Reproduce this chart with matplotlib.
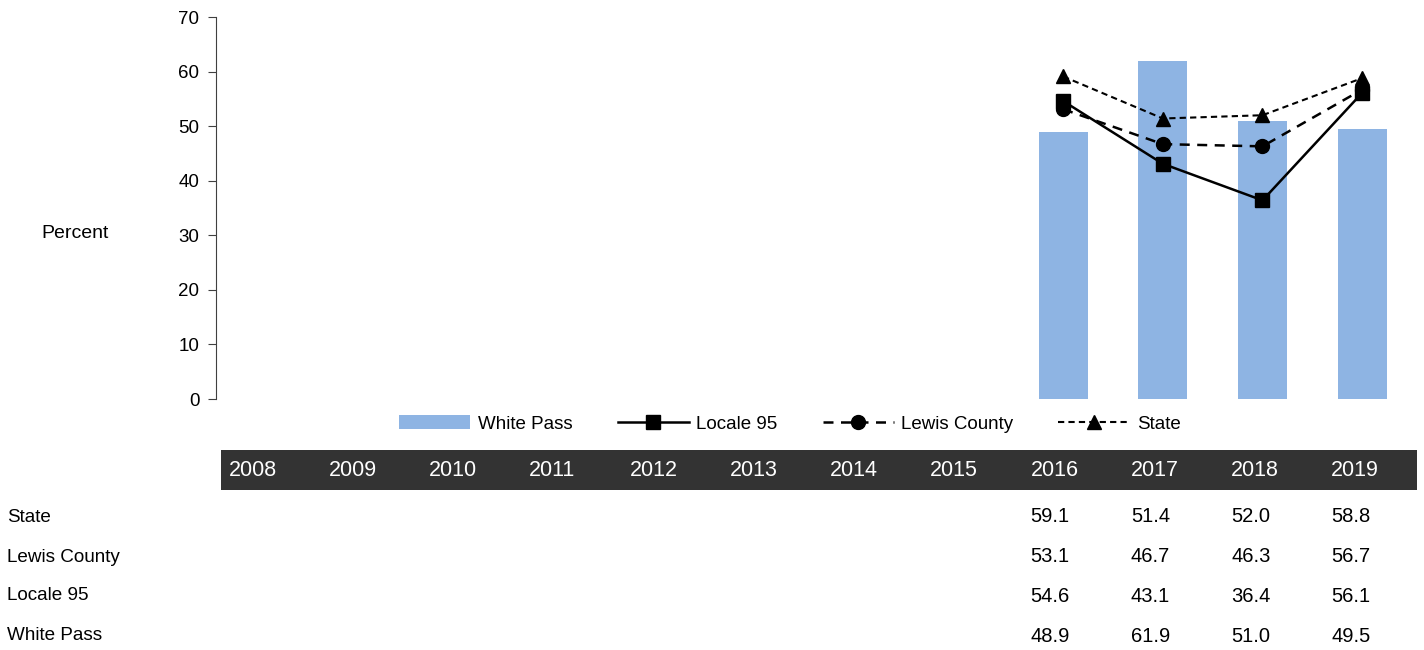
import numpy as np
import matplotlib
matplotlib.use("Agg")
import matplotlib.pyplot as plt
import matplotlib.transforms as mtransforms
from matplotlib.patches import Rectangle

plt.rcParams["font.family"] = ["Liberation Sans", "DejaVu Sans"]
plt.rcParams["font.size"] = 13

years = ["2008", "2009", "2010", "2011", "2012", "2013", "2014", "2015",
         "2016", "2017", "2018", "2019"]
state = [None] * 8 + [59.1, 51.4, 52.0, 58.8]
lewis_county = [None] * 8 + [53.1, 46.7, 46.3, 56.7]
locale_95 = [None] * 8 + [54.6, 43.1, 36.4, 56.1]
white_pass = [None] * 8 + [48.9, 61.9, 51.0, 49.5]

row_names = ["State", "Lewis County", "Locale 95", "White Pass"]
row_data = [state, lewis_county, locale_95, white_pass]


def to_arr(vals):
    return np.array([np.nan if v is None else v for v in vals], dtype=float)


W, H = 1424, 650
fig = plt.figure(figsize=(W / 100, H / 100), dpi=100)
ax = fig.add_axes([216 / W, 1 - 399 / H, (1412 - 216) / W, (399 - 17) / H])

x = np.arange(len(years))
h_bar = ax.bar(x, to_arr(white_pass), width=0.49, color="#8EB4E3",
               label="White Pass", zorder=1)
h_loc, = ax.plot(x, to_arr(locale_95), color="black", lw=1.8, marker="s", ms=10,
                 label="Locale 95", zorder=3)
h_lew, = ax.plot(x, to_arr(lewis_county), color="black", lw=1.8, ls=(0, (4, 3)),
                 marker="o", ms=10, label="Lewis County", zorder=3)
h_st, = ax.plot(x, to_arr(state), color="black", lw=1.5, ls=(0, (3, 2)), marker="^",
                ms=10, label="State", zorder=3)

ax.set_xlim(-0.5, len(years) - 0.5)
ax.set_ylim(0, 70)
ax.set_yticks(range(0, 71, 10))
ax.set_xticks([])
for s in ["top", "right", "bottom"]:
    ax.spines[s].set_visible(False)
ax.spines["left"].set_color("#404040")
ax.tick_params(axis="y", length=6, color="#404040", labelsize=13.5, pad=6)

fig.text(75 / W, 1 - 234 / H, "Percent", ha="center", va="center", fontsize=14)

fig.legend(handles=[h_bar, h_loc, h_lew, h_st], loc="center",
           bbox_to_anchor=(790 / W, 1 - 424 / H), ncol=4,
           frameon=False, handlelength=3.8, columnspacing=2.4,
           handletextpad=0.4, fontsize=13.5)

# data table below the chart
trans = mtransforms.blended_transform_factory(ax.transData, fig.transFigure)
fig.patches.append(Rectangle((-0.45, 1 - 490 / H), 12.0, 40 / H, transform=trans,
                             facecolor="#333333", edgecolor="none", clip_on=False))
for i, yr in enumerate(years):
    fig.text(i - 0.375 + 0.006 * i, 1 - 471 / H, yr, transform=trans, color="white",
             ha="left", va="center", fontsize=15.5)

row_y = [517, 557, 596, 636]
for name, vals, yy in zip(row_names, row_data, row_y):
    fig.text(7 / W, 1 - yy / H, name, ha="left", va="center", fontsize=13.6)
    for i, v in enumerate(vals):
        if v is not None:
            fig.text(i - 0.375 + 0.006 * i, 1 - yy / H, f"{v:.1f}", transform=trans,
                     ha="left", va="center", fontsize=14.5)

fig.savefig("out.png", dpi=100)
